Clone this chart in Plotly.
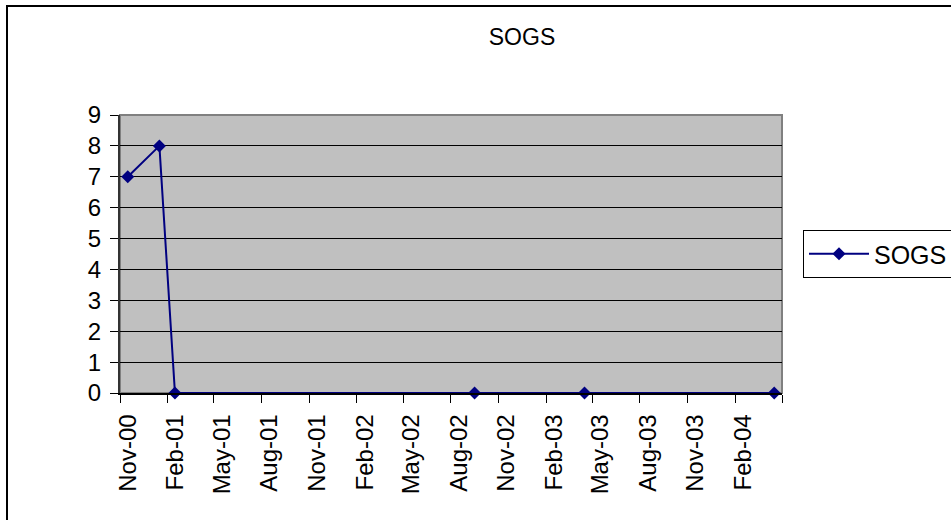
import plotly.graph_objects as go

# SOGS score by month (points sit in the middle of each month slot)
months = ["2000-11-16", "2001-01-16", "2001-02-15", "2002-09-16", "2003-04-16", "2004-04-16"]
sogs = [7, 8, 0, 0, 0, 0]

series_name = "SOGS"
title_text = "SOGS"
x_start, x_end = "2000-11-01", "2004-05-01"

# quarterly tick marks on month boundaries; the closing boundary carries no label
tick_dates = ["2000-11-01", "2001-02-01", "2001-05-01", "2001-08-01", "2001-11-01",
              "2002-02-01", "2002-05-01", "2002-08-01", "2002-11-01", "2003-02-01",
              "2003-05-01", "2003-08-01", "2003-11-01", "2004-02-01", "2004-05-01"]
tick_labels = ["Nov-00", "Feb-01", "May-01", "Aug-01", "Nov-01", "Feb-02", "May-02",
               "Aug-02", "Nov-02", "Feb-03", "May-03", "Aug-03", "Nov-03", "Feb-04", ""]
y_ticks = list(range(0, 10))

W, H = 951, 520
L, R, T, B = 120, 169, 114.5, 126.5
pw, ph = W - L - R, H - T - B

FONT = "Liberation Sans, Arial, sans-serif"
NAVY = "#000080"

fig = go.Figure()
fig.add_trace(go.Scatter(
    x=months, y=sogs, name=series_name, mode="lines+markers",
    line=dict(color=NAVY, width=2),
    marker=dict(symbol="diamond", size=10, color=NAVY),
    cliponaxis=False,
))


def px_x(p):
    return (p - L) / pw


def px_y(p):
    return (H - B - p) / ph


fig.update_layout(
    width=W, height=H,
    margin=dict(l=L, r=R, t=T, b=B, autoexpand=False),
    paper_bgcolor="white",
    plot_bgcolor="#C0C0C0",
    font=dict(family=FONT, color="black"),
    title=dict(text=title_text, font=dict(size=23, family=FONT, color="black"),
               x=522 / W, xref="container", xanchor="center",
               y=1 - 37 / H, yref="container", yanchor="middle"),
    showlegend=True,
    legend=dict(x=px_x(803), y=px_y(230), xanchor="left", yanchor="top",
                bgcolor="white", bordercolor="black", borderwidth=1,
                font=dict(size=25, family=FONT, color="black"),
                itemwidth=60, tracegroupgap=0),
    xaxis=dict(
        type="date", range=[x_start, x_end],
        tickvals=tick_dates, ticktext=tick_labels,
        tickangle=-90, ticks="outside", ticklen=8, tickcolor="black", tickwidth=1,
        ticklabelshift=8, ticklabelstandoff=2,
        tickfont=dict(size=24, family=FONT, color="black"),
        showgrid=False, showline=True, linecolor="black", linewidth=1.5,
        zeroline=False,
    ),
    yaxis=dict(
        range=[0, 9], tickvals=y_ticks, ticks="outside", ticklen=8,
        tickcolor="black", tickwidth=1, ticklabelstandoff=4,
        tickfont=dict(size=24, family=FONT, color="black"),
        showgrid=True, gridcolor="black", gridwidth=1,
        showline=True, linecolor="#333333", linewidth=2,
        zeroline=False,
    ),
    shapes=[
        # plot area border
        dict(type="rect", xref="paper", yref="paper", x0=0, x1=1, y0=0, y1=1,
             line=dict(color="#808080", width=2), layer="below"),
        # chart area border
        dict(type="rect", xref="paper", yref="paper",
             x0=px_x(7), x1=px_x(1040), y0=px_y(600), y1=px_y(5),
             line=dict(color="black", width=2), fillcolor="rgba(0,0,0,0)"),
    ],
)

fig.write_html("out.html")
